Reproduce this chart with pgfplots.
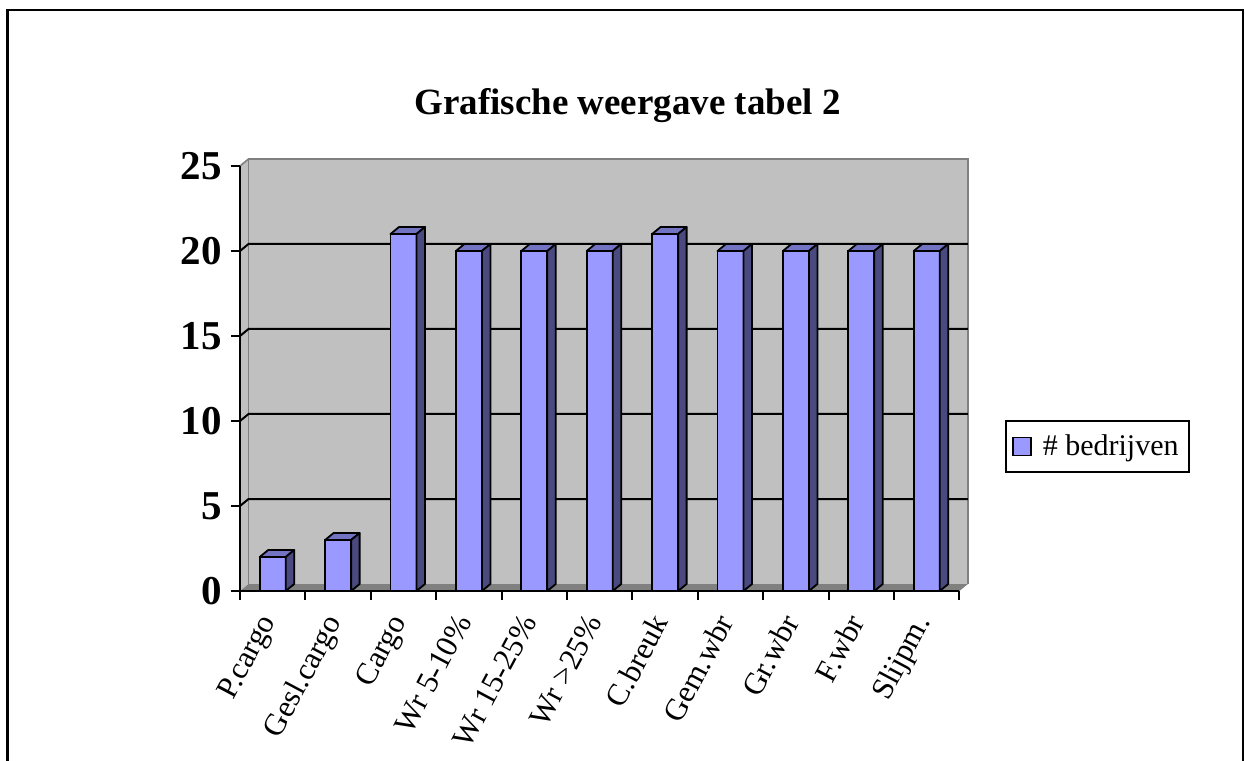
\documentclass[border=0pt]{standalone}
\usepackage{fontspec}
\setmainfont{Liberation Serif}
\usepackage{pgfplots}
\usepackage{pgfplotstable}
\pgfplotsset{compat=1.18}
\definecolor{wall}{HTML}{C0C0C0}
\definecolor{floorc}{HTML}{808080}
\definecolor{barfront}{HTML}{9999FF}
\definecolor{bartop}{HTML}{7373C4}
\definecolor{barside}{HTML}{4A4A80}
\pgfdeclareplotmark{nothing}{}
\pgfplotstableread{
x y
0 2
1 3
2 21
3 20
4 20
5 20
6 21
7 20
8 20
9 20
10 20
}\datatable
\begin{document}
\begin{tikzpicture}
\useasboundingbox (0,0) rectangle (622.5pt,380pt);
\draw[line width=1.2pt] (3.75pt,-10pt) rectangle (621.5pt,375pt);
\node[font=\fontsize{18.5}{20}\selectfont\bfseries, anchor=base] at (313.75pt,322.5pt) {Grafische weergave tabel 2};
\begin{axis}[
  at={(120pt,84.5pt)}, anchor=south west,
  x=32.7pt, y=8.5pt,
  xmin=-0.5, xmax=10.5, ymin=0, ymax=25,
  clip=false,
  axis on top,
  axis x line*=bottom, axis y line*=left,
  axis line style={line width=1pt, black},
  tick style={line width=1pt, black},
  ytick={0,5,...,25},
  ytick align=outside, ytick pos=left,
  major tick length=4.5pt,
  xtick={0,...,10},
  xtick align=inside,
  xtick style={draw=none},
  xticklabels={P.cargo, Gesl.cargo, Cargo, Wr 5-10\%, Wr 15-25\%, Wr >25\%, C.breuk, Gem.wbr, Gr.wbr, F.wbr, Slijpm.},
  xticklabel style={font=\fontsize{15.5}{17}\selectfont, xshift=-7.5pt, yshift=-10.25pt, rotate=62, anchor=north east, inner sep=0pt},
  /pgf/number format/assume math mode=true,
  yticklabel style={font=\fontsize{20.5}{22}\selectfont\bfseries, anchor=east, inner sep=0pt, xshift=-4.5pt},
  legend style={at={(axis description cs:1.0634,0.34)}, anchor=west, draw=black, line width=1pt,
    font=\fontsize{15}{17}\selectfont, inner xsep=3pt, inner ysep=5pt},
]
% back wall, side wall, floor
\fill[wall] ([shift={(4.25pt,3.5pt)}]axis cs:-0.5,0) rectangle ([shift={(4.25pt,3.5pt)}]axis cs:10.5,25);
\fill[wall] (axis cs:-0.5,0) -- ([shift={(4.25pt,3.5pt)}]axis cs:-0.5,0) -- ([shift={(4.25pt,3.5pt)}]axis cs:-0.5,25) -- (axis cs:-0.5,25) -- cycle;
\fill[floorc] (axis cs:-0.5,0) -- (axis cs:10.5,0) -- ([shift={(4.25pt,3.5pt)}]axis cs:10.5,0) -- ([shift={(4.25pt,3.5pt)}]axis cs:-0.5,0) -- cycle;
\draw[floorc, line width=0.8pt] ([shift={(4.25pt,3.5pt)}]axis cs:-0.5,0) -- ([shift={(4.25pt,3.5pt)}]axis cs:-0.5,25) -- ([shift={(4.25pt,3.5pt)}]axis cs:10.5,25) -- ([shift={(4.25pt,3.5pt)}]axis cs:10.5,0);
\draw[floorc, line width=0.8pt] (axis cs:-0.5,25) -- ([shift={(4.25pt,3.5pt)}]axis cs:-0.5,25);
\pgfplotsinvokeforeach{5,10,15,20}{
  \draw[line width=1pt] (axis cs:-0.5,#1) -- ([shift={(4.25pt,3.5pt)}]axis cs:-0.5,#1) -- ([shift={(4.25pt,3.5pt)}]axis cs:10.5,#1);
}
% bars: front faces
\addplot[ybar, bar width=13pt, fill=barfront, draw=black, line width=0.9pt,
  legend image code/.code={\draw[fill=barfront,draw=black,line width=0.9pt] (0pt,-4.5pt) rectangle (9pt,4.5pt); \path (12.5pt,0pt);}]
  table[x=x,y=y] \datatable;
\addlegendentry{\# bedrijven}
% bars: top and side faces
\addplot[forget plot, scatter, only marks, mark=nothing,
  visualization depends on={rawy \as \rawyv},
  scatter/@pre marker code/.code={%
    \pgfmathsetlengthmacro\hh{\rawyv*8.5pt}%
    \draw[fill=bartop, draw=black, line width=0.9pt, line join=round] (-6.5pt,0pt) -- (6.5pt,0pt) -- (10.75pt,3.5pt) -- (-2.25pt,3.5pt) -- cycle;
    \draw[fill=barside, draw=black, line width=0.9pt, line join=round] (6.5pt,0pt) -- (10.75pt,3.5pt) -- (10.75pt,3.5pt-\hh) -- (6.5pt,-\hh) -- cycle;
  },
  scatter/@post marker code/.code={}]
  table[x=x,y=y] \datatable;
% x ticks at category boundaries
\pgfplotsinvokeforeach{-0.5,0.5,1.5,2.5,3.5,4.5,5.5,6.5,7.5,8.5,9.5,10.5}{
  \draw[line width=1pt] (axis cs:#1,0) -- ++(0pt,-4.5pt);
}
\end{axis}
\end{tikzpicture}
\end{document}
